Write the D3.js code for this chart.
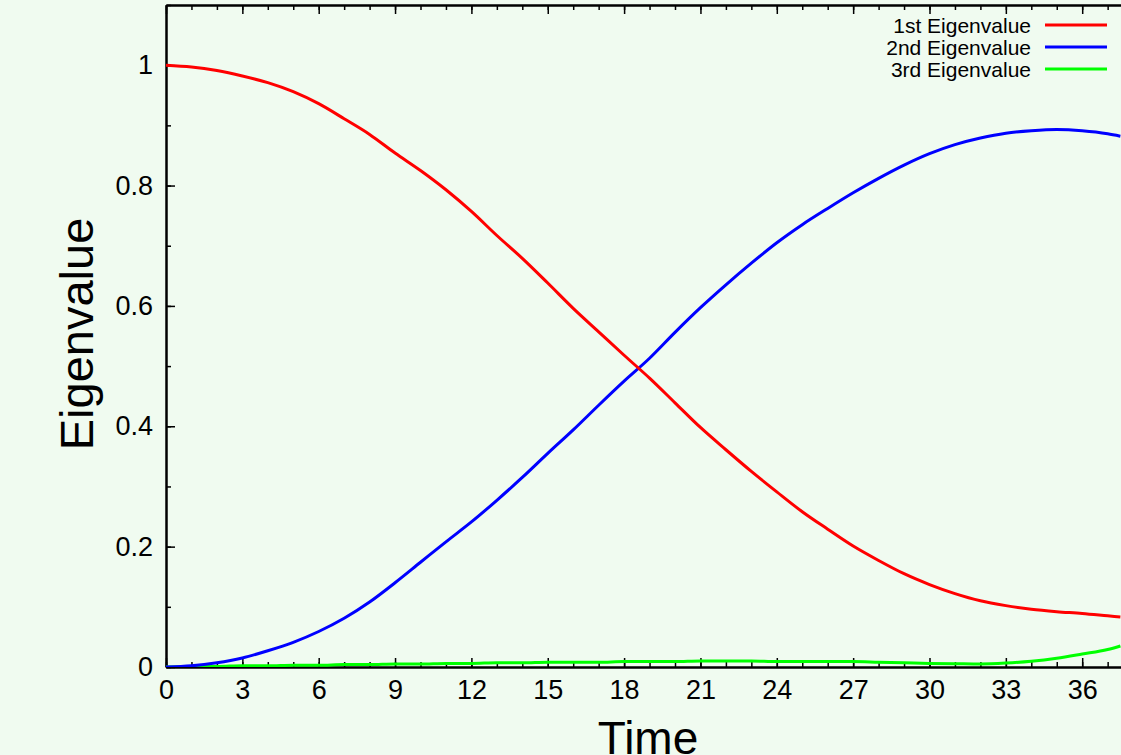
<!DOCTYPE html>
<html>
<head>
<meta charset="utf-8">
<script src="https://cdn.jsdelivr.net/npm/d3@7"></script>
<style>
  html, body { margin: 0; padding: 0; background: #f0fbf0; }
  svg { display: block; font-family: "Liberation Sans", Arial, Helvetica, sans-serif; }
</style>
</head>
<body>
<svg id="chart" width="1121" height="755"></svg>
<script>
// ---- data ----
const times = [0,1,2,3,4,5,6,7,8,9,10,11,12,13,14,15,16,17,18,19,20,21,22,23,24,25,26,27,28,29,30,31,32,33,34,35,36,37,37.5];
const firstEigen = [1.000,0.997,0.991,0.982,0.971,0.956,0.936,0.911,0.885,0.854,0.825,0.793,0.757,0.717,0.679,0.638,0.596,0.557,0.518,0.480,0.439,0.398,0.361,0.325,0.291,0.258,0.229,0.201,0.177,0.155,0.137,0.122,0.110,0.102,0.096,0.092,0.089,0.085,0.083];
const secondEigen = [0.000,0.002,0.007,0.015,0.027,0.041,0.059,0.081,0.108,0.140,0.174,0.208,0.241,0.277,0.315,0.355,0.394,0.435,0.475,0.513,0.556,0.597,0.635,0.671,0.705,0.735,0.762,0.788,0.812,0.834,0.853,0.868,0.879,0.887,0.891,0.893,0.891,0.886,0.882];
const thirdEigen = [0.000,0.001,0.001,0.002,0.002,0.003,0.003,0.004,0.004,0.005,0.005,0.006,0.006,0.007,0.007,0.008,0.008,0.008,0.009,0.009,0.009,0.010,0.010,0.010,0.009,0.009,0.009,0.009,0.008,0.007,0.006,0.0055,0.005,0.0065,0.0095,0.0145,0.0215,0.029,0.035];
const seriesNames = ["1st Eigenvalue", "2nd Eigenvalue", "3rd Eigenvalue"];
const seriesColors = ["#ff0000", "#0000ff", "#00ff00"];
const xMajorTicks = [0,3,6,9,12,15,18,21,24,27,30,33,36];
const yMajorTicks = [0,0.2,0.4,0.6,0.8,1.0];
const xLabel = "Time";
const yLabel = "Eigenvalue";

// ---- layout ----
const W = 1121, H = 755;
const plotLeft = 166, plotTop = 5, plotBottom = 667;
const pxPerUnit = 25.45;
const svg = d3.select("#chart");
svg.append("rect").attr("width", W).attr("height", H).attr("fill", "#f0fbf0");

const x = d3.scaleLinear().domain([0, 40]).range([plotLeft, plotLeft + 40 * pxPerUnit]);
const y = d3.scaleLinear().domain([0, 1.1]).range([plotBottom, plotTop]);

const xMinor = d3.range(0, 41, 1);
const yMinor = d3.range(0, 1.1001, 0.1).map(v => +v.toFixed(2));

function styleAxis(g) {
  g.selectAll("path.domain").attr("stroke", "#000").attr("stroke-width", 2);
  g.selectAll(".tick line").attr("stroke", "#000").attr("stroke-width", 1.5);
  g.selectAll(".tick text").attr("fill", "#000").attr("font-size", 27)
    .attr("font-family", '"Liberation Sans", Arial, sans-serif');
}

// bottom minor
svg.append("g").attr("transform", `translate(0,${plotBottom})`)
  .call(d3.axisBottom(x).tickValues(xMinor).tickSize(-5).tickSizeOuter(0).tickFormat(""))
  .call(styleAxis);
// bottom major
svg.append("g").attr("transform", `translate(0,${plotBottom})`)
  .call(d3.axisBottom(x).tickValues(xMajorTicks.concat([39])).tickSize(-9).tickSizeOuter(0).tickPadding(13)
    .tickFormat(d => xMajorTicks.includes(d) ? d3.format("d")(d) : ""))
  .call(styleAxis);
// top minor + major
svg.append("g").attr("transform", `translate(0,${plotTop})`)
  .call(d3.axisTop(x).tickValues(xMinor).tickSize(-5).tickSizeOuter(0).tickFormat(""))
  .call(styleAxis);
svg.append("g").attr("transform", `translate(0,${plotTop})`)
  .call(d3.axisTop(x).tickValues(xMajorTicks.concat([39])).tickSize(-9).tickSizeOuter(0).tickFormat(""))
  .call(styleAxis);
// left minor
svg.append("g").attr("transform", `translate(${plotLeft},0)`)
  .call(d3.axisLeft(y).tickValues(yMinor).tickSize(-5).tickSizeOuter(0).tickFormat(""))
  .call(styleAxis);
// left major
svg.append("g").attr("transform", `translate(${plotLeft},0)`)
  .call(d3.axisLeft(y).tickValues(yMajorTicks).tickSize(-9).tickSizeOuter(0).tickPadding(13).tickFormat(d => d3.format("~g")(d)))
  .call(styleAxis);

// clip for curves
svg.append("clipPath").attr("id", "plotclip").append("rect")
  .attr("x", plotLeft).attr("y", plotTop).attr("width", W - plotLeft).attr("height", plotBottom - plotTop);

const allSeries = [firstEigen, secondEigen, thirdEigen];
const line = d3.line().x((d, i) => x(times[i])).y(d => y(d)).curve(d3.curveMonotoneX);
const plot = svg.append("g").attr("clip-path", "url(#plotclip)");
[2, 1, 0].forEach(k => {
  plot.append("path").datum(allSeries[k])
    .attr("d", line).attr("fill", "none")
    .attr("stroke", seriesColors[k]).attr("stroke-width", 3)
    .attr("stroke-linejoin", "round");
});

// legend
const legend = svg.append("g");
seriesNames.forEach((name, i) => {
  const ly = 25 + i * 22;
  legend.append("text").attr("x", 1031).attr("y", ly).attr("dy", "0.36em")
    .attr("text-anchor", "end").attr("font-size", 21).attr("fill", "#000").text(name);
  legend.append("line").attr("x1", 1045).attr("x2", 1107).attr("y1", ly).attr("y2", ly)
    .attr("stroke", seriesColors[i]).attr("stroke-width", 3);
});

// axis titles
svg.append("text").attr("x", 648).attr("y", 754).attr("text-anchor", "middle")
  .attr("font-size", 46).attr("fill", "#000").text(xLabel);
svg.append("text").attr("transform", "translate(93,334) rotate(-90)")
  .attr("text-anchor", "middle").attr("font-size", 47).attr("fill", "#000").text(yLabel);
</script>
</body>
</html>
